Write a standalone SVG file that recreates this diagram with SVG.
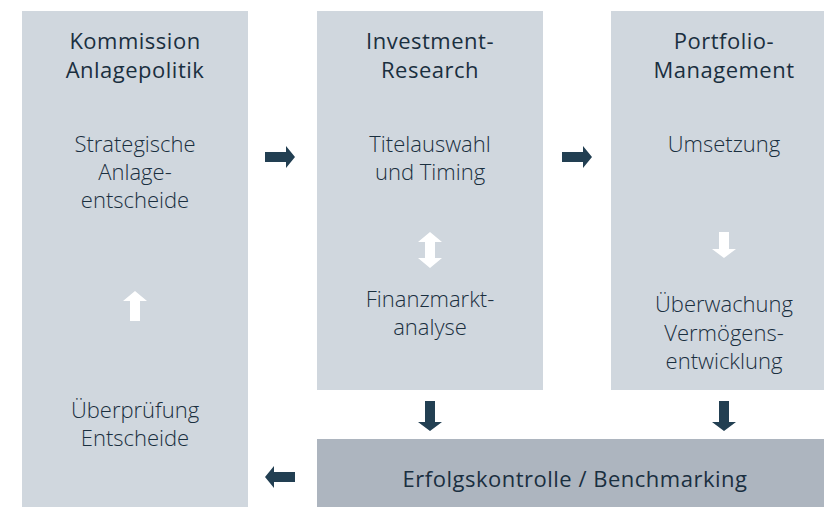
<svg xmlns="http://www.w3.org/2000/svg" width="824" height="507" viewBox="0 0 824 507">
<style>
.box{fill:#d0d7de}
.bar{fill:#adb5bf}
.t{font-family:"Open Sans","Noto Sans",sans-serif;font-size:22px;fill:#1a2f3f;text-anchor:middle}
.h{font-weight:400;letter-spacing:0.5px}
.b{font-weight:300}
.dk{fill:#223f52}
.wh{fill:#ffffff}
</style>
<rect width="824" height="507" fill="#ffffff"/>
<g id="node-kommission">
<rect class="box" x="22" y="11" width="226" height="496"/>
<text class="t h" x="135" y="49">Kommission</text>
<text class="t h" x="135" y="78">Anlagepolitik</text>
<text class="t b" x="135" y="152">Strategische</text>
<text class="t b" x="135" y="180">Anlage-</text>
<text class="t b" x="135" y="208">entscheide</text>
<text class="t b" x="135" y="418">Überprüfung</text>
<text class="t b" x="135" y="446">Entscheide</text>
</g>
<g id="node-research">
<rect class="box" x="317" y="11" width="226" height="379"/>
<text class="t h" x="430" y="49">Investment-</text>
<text class="t h" x="430" y="78">Research</text>
<text class="t b" x="430" y="152">Titelauswahl</text>
<text class="t b" x="430" y="180">und Timing</text>
<text class="t b" x="430" y="307">Finanzmarkt-</text>
<text class="t b" x="430" y="335">analyse</text>
</g>
<g id="node-portfolio">
<rect class="box" x="611" y="11" width="226" height="379"/>
<text class="t h" x="724" y="49">Portfolio-</text>
<text class="t h" x="724" y="78">Management</text>
<text class="t b" x="724" y="152">Umsetzung</text>
<text class="t b" x="724" y="312">Überwachung</text>
<text class="t b" x="724" y="341">Vermögens-</text>
<text class="t b" x="724" y="369">entwicklung</text>
</g>
<g id="node-erfolg">
<rect class="bar" x="317" y="439" width="520" height="68"/>
<text class="t h" x="575" y="487">Erfolgskontrolle / Benchmarking</text>
</g>
<g id="connectors">
<path class="dk" d="M265,152 H286 V146 L295,157 L286,168 V162 H265 Z"/>
<path class="dk" d="M562,152 H583 V146 L592,157 L583,168 V162 H562 Z"/>
<path class="dk" d="M295,472 H274 V466 L265,477 L274,488 V482 H295 Z"/>
<path class="dk" d="M425,401 V422 H418 L430,431 L442,422 H435 V401 Z"/>
<path class="dk" d="M719,401 V422 H712 L724,431 L736,422 H729 V401 Z"/>
<path class="wh" d="M130,321 V301 H123 L135,291 L147,301 H140 V321 Z"/>
<path class="wh" d="M719,232 V249 H712 L724,258 L736,249 H729 V232 Z"/>
<path class="wh" d="M425,242 V258 H418 L430,268 L442,258 H435 V242 H442 L430,232 L418,242 Z"/>
</g>
</svg>
